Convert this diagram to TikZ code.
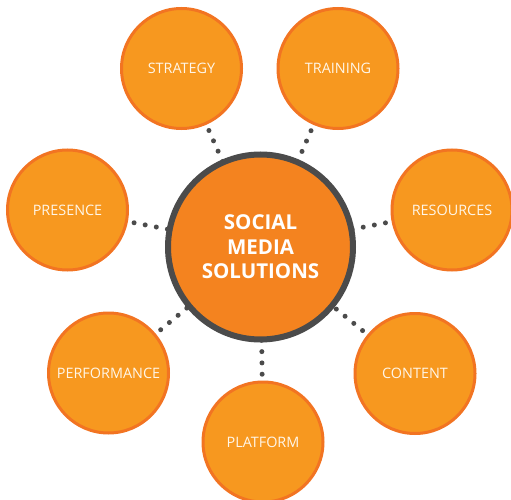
\documentclass[tikz,border=0pt]{standalone}
\usepackage{fontspec}
\setmainfont{Open Sans}
\definecolor{satfill}{HTML}{F7981F}
\definecolor{satborder}{HTML}{F27422}
\definecolor{hubfill}{HTML}{F4831F}
\definecolor{ring}{HTML}{4B4B4B}
\definecolor{txt}{HTML}{FFF6E8}
\begin{document}
\begin{tikzpicture}[x=1pt,y=-1pt,
  sat/.style={circle,draw=satborder,fill=satfill,line width=3pt,minimum size=120pt,inner sep=0pt,
    font=\fontsize{14.4}{17}\selectfont,text=txt},
  hub/.style={circle,draw=ring,fill=hubfill,line width=6pt,minimum size=185pt,inner sep=0pt,
    font=\bfseries\fontsize{20.5}{24.5}\selectfont,text=white,align=center},
  dots/.style={draw=ring,line width=5pt,line cap=round,dash pattern=on 0pt off 11.3pt}]
\useasboundingbox (0,0) rectangle (511,500);
\coordinate (hc) at (260.5,247);
\coordinate (sc) at (181.5,68.5);
\coordinate (tc) at (338,68.5);
\coordinate (pc) at (67.5,210);
\coordinate (rc) at (452,210);
\coordinate (fc) at (108.5,373);
\coordinate (cc) at (415,373.5);
\coordinate (lc) at (263,442);
% connectors
\draw[dots] (sc) -- (hc);
\draw[dots] (tc) -- (hc);
\draw[dots] (pc) -- (hc);
\draw[dots] (rc) -- (hc);
\draw[dots] (fc) -- (hc);
\draw[dots] (cc) -- (hc);
\draw[dots] (lc) -- (hc);
% nodes
\node[hub] (hub) at (hc) {SOCIAL\\MEDIA\\SOLUTIONS};
\node[sat] (strategy) at (sc) {STRATEGY};
\node[sat] (training) at (tc) {TRAINING};
\node[sat] (presence) at (pc) {PRESENCE};
\node[sat] (resources) at (rc) {RESOURCES};
\node[sat] (performance) at (fc) {PERFORMANCE};
\node[sat] (content) at (cc) {CONTENT};
\node[sat] (platform) at (lc) {PLATFORM};
\end{tikzpicture}
\end{document}
